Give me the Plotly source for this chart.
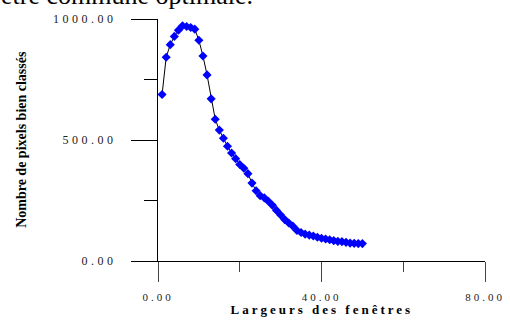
import plotly.graph_objects as go

# Data
window_widths = list(range(1, 51))
pixels_well_classified = [
    688, 842, 894, 928, 954, 972, 969, 965, 958, 912,
    847, 769, 670, 586, 541, 507, 474, 446, 423, 399,
    383, 361, 322, 290, 270, 261, 247, 230, 209, 190,
    171, 157, 144, 126, 118, 111, 107, 103, 98, 94,
    91, 88, 84, 81, 80, 77, 74, 73, 72, 72,
]
x_tick_values = [0, 40, 80]
y_tick_values = [0, 500, 1000]

x_title = "Largeurs des fenêtres"
y_title = "Nombre de pixels bien classés"
top_text = "ètre commune optimale."

SERIF = "Liberation Serif, Times New Roman, serif"

# plot-area geometry in pixels (used only to place annotations)
L, R, T, B = 158, 17, 16, 61
W, H = 510, 322
PW, PH = W - L - R, H - T - B


def px_to_paper(px, py):
    return (px - L) / PW, (H - B - py) / PH


fig = go.Figure()
fig.add_trace(go.Scatter(
    x=window_widths, y=pixels_well_classified,
    mode="lines+markers",
    line=dict(color="black", width=1),
    marker=dict(symbol="diamond", size=7, color="#0000ff",
                line=dict(width=0)),
    showlegend=False,
))

fig.update_xaxes(
    range=[0, 80], tickvals=x_tick_values, tickformat=".2f",
    showgrid=False, zeroline=False, showline=True,
    linecolor="black", linewidth=1,
    ticks="outside", ticklen=20, tickwidth=1, tickcolor="#444",
    ticklabelstandoff=6,
    tickfont=dict(family=SERIF, size=11, color="#222"),
    minor=dict(dtick=20, ticks="outside", ticklen=10, tickwidth=1,
               tickcolor="#444", showgrid=False),
)
fig.update_yaxes(
    range=[0, 1000], tickvals=y_tick_values, tickformat=".2f",
    showgrid=False, zeroline=False, showline=True,
    linecolor="black", linewidth=1,
    ticks="outside", ticklen=26, tickwidth=1, tickcolor="black",
    ticklabelstandoff=12,
    tickfont=dict(family=SERIF, size=12, color="#222"),
    minor=dict(dtick=250, ticks="outside", ticklen=13, tickwidth=1,
               tickcolor="black", showgrid=False),
)

xa, ya = px_to_paper(326, 310)
xb, yb = px_to_paper(17.5, 137.5)
xc, yc = px_to_paper(257, -8)

fig.update_layout(
    width=W, height=H,
    margin=dict(l=L, r=R, t=T, b=B),
    paper_bgcolor="white", plot_bgcolor="white",
    annotations=[
        dict(text=x_title, xref="paper", yref="paper", x=xa, y=ya,
             xanchor="center", yanchor="middle", showarrow=False,
             font=dict(family=SERIF, size=13, color="black", weight="bold")),
        dict(text=y_title, xref="paper", yref="paper", x=xb, y=yb,
             xanchor="center", yanchor="middle", showarrow=False,
             textangle=-90,
             font=dict(family=SERIF, size=14, color="black", weight="bold")),
        dict(text=top_text, xref="paper", yref="paper", x=xc, y=yc,
             xanchor="right", yanchor="middle", showarrow=False,
             font=dict(family=SERIF, size=26, color="black")),
    ],
)

post = """
document.body.style.margin = '0';
document.body.style.padding = '0';
var gd = document.getElementById('{plot_id}');
function sp(){
  gd.querySelectorAll('.xtick text').forEach(function(t){ t.style.letterSpacing = '3px'; });
  gd.querySelectorAll('.ytick text').forEach(function(t){ t.style.letterSpacing = '3.5px'; });
  gd.querySelectorAll('.annotation-text').forEach(function(t){
    if (t.textContent.indexOf('Largeurs') === 0) { t.style.letterSpacing = '3px'; }
  });
}
sp();
gd.on('plotly_afterplot', sp);
"""

fig.write_html("out.html", post_script=post, config={"displayModeBar": False})
